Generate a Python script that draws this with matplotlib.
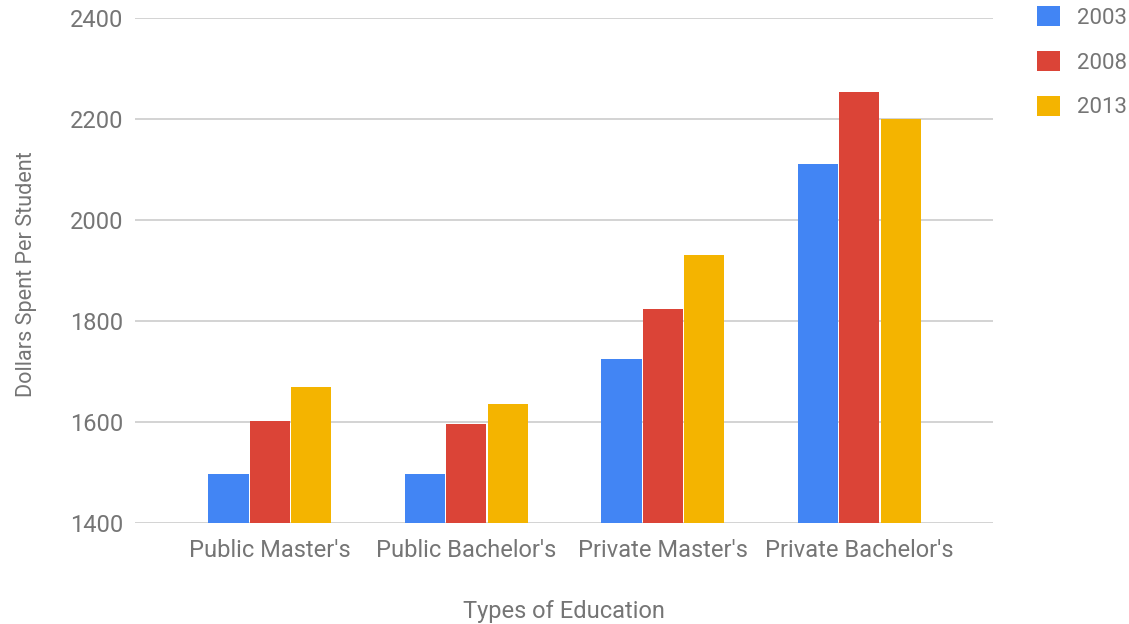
import matplotlib
matplotlib.use("Agg")
import matplotlib.pyplot as plt
import numpy as np
from matplotlib.patches import Patch

categories = ["Public Master's", "Public Bachelor's", "Private Master's", "Private Bachelor's"]
years = ["2003", "2008", "2013"]
values_2003 = [1497, 1497, 1725, 2111]
values_2008 = [1602, 1596, 1824, 2253]
values_2013 = [1669, 1636, 1931, 2200]
series = [values_2003, values_2008, values_2013]
colors = ["#4285F4", "#DB4437", "#F4B400"]
yticks = [1400, 1600, 1800, 2000, 2200, 2400]

text_color = "#757575"
plt.rcParams["font.family"] = ["Roboto", "DejaVu Sans"]

W, H = 1129, 624
fig = plt.figure(figsize=(W / 100, H / 100), dpi=100)
ax = fig.add_axes([135 / W, (H - 523) / H, 858 / W, 505 / H])

x = np.arange(len(categories))
bar_w = 0.204
step = 0.211
for i, (vals, col) in enumerate(zip(series, colors)):
    ax.bar(x + (i - 1) * step, np.array(vals) - 1400, bottom=1400, width=bar_w,
           color=col, label=years[i], zorder=3, linewidth=0)

ax.set_xlim(-0.687, 3.68)
ax.set_ylim(1400, 2400)
ax.set_yticks(yticks)
ax.set_yticklabels([str(v) for v in yticks])
ax.set_xticks(x)
ax.set_xticklabels(categories)
ax.grid(axis="y", color="#cccccc", linewidth=1.2, zorder=0)
ax.set_axisbelow(True)
for s in ax.spines.values():
    s.set_visible(False)
ax.tick_params(axis="both", length=0, colors=text_color, labelsize=17)
ax.tick_params(axis="y", pad=8.6)
ax.tick_params(axis="x", pad=11.2)

ax.set_xlabel("Types of Education", color=text_color, fontsize=17, labelpad=27.4)
ax.set_ylabel("Dollars Spent Per Student", color=text_color, fontsize=15.6)
ax.yaxis.set_label_coords(-0.114, 0.493)

handles = [Patch(facecolor=c, edgecolor="none", label=y) for c, y in zip(colors, years)]
leg = fig.legend(handles=handles, loc="upper left", bbox_to_anchor=(1037 / W, 1 - 6 / H),
                 frameon=False, fontsize=16, handlelength=1.035, handleheight=1.035,
                 handletextpad=0.77, labelspacing=0.99, borderpad=0.0, borderaxespad=0.0)
for t in leg.get_texts():
    t.set_color(text_color)

fig.savefig("out.png", dpi=100, facecolor="white")
